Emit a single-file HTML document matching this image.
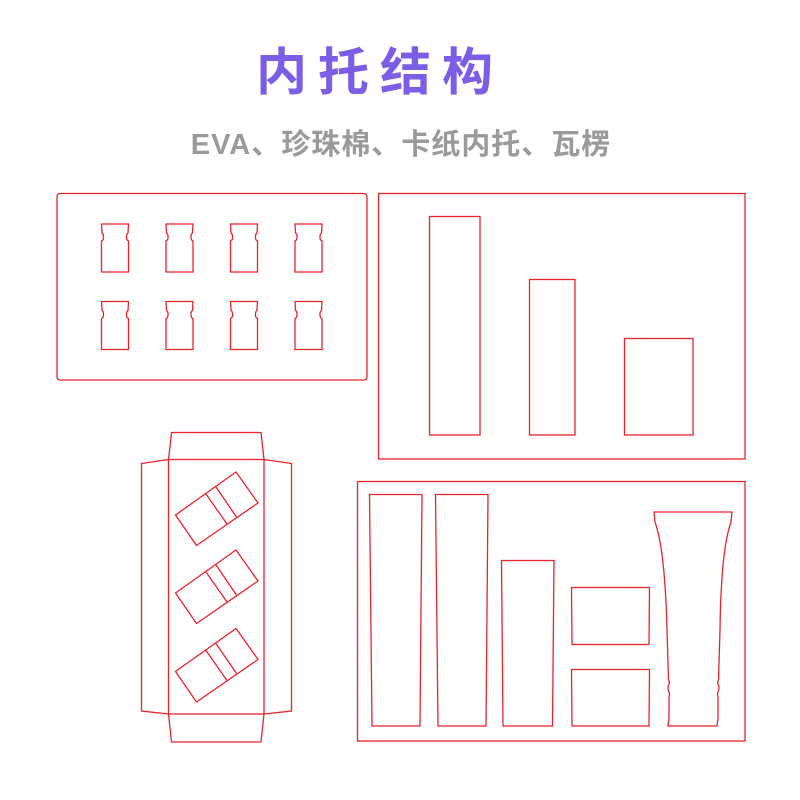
<!DOCTYPE html>
<html><head><meta charset="utf-8"><style>
html,body{margin:0;padding:0;background:#fff;width:800px;height:800px;overflow:hidden}
</style></head><body>
<svg width="800" height="800" viewBox="0 0 800 800" xmlns="http://www.w3.org/2000/svg">
<text x="380" y="90" text-anchor="middle" font-family="'Liberation Sans','Noto Sans CJK SC',sans-serif" font-weight="bold" font-size="51" fill="#7b5de6" letter-spacing="11">内托结构</text>
<text x="401" y="154" text-anchor="middle" font-family="'Liberation Sans','Noto Sans CJK SC',sans-serif" font-weight="bold" font-size="29" fill="#9a9a9a" letter-spacing="1">EVA、珍珠棉、卡纸内托、瓦楞</text>
<g fill="none" stroke="#e8232c" stroke-width="1.3">
<rect x="57" y="193.5" width="310" height="186.5" rx="3"/>
<defs>
<path id="b" d="M0,0 H27 L26.5,9 Q25,10 25,12 V14 Q25,16 27,17 V48 H0 V17 Q2,16 2,14 V12 Q2,10 0.5,9 Z"/>
</defs>
<use href="#b" x="101.5" y="224"/><use href="#b" x="166" y="224"/><use href="#b" x="230.5" y="224"/><use href="#b" x="295" y="224"/>
<use href="#b" x="101.5" y="301.5"/><use href="#b" x="166" y="301.5"/><use href="#b" x="230.5" y="301.5"/><use href="#b" x="295" y="301.5"/>
<rect x="378.5" y="193.5" width="366.5" height="265.5"/>
<rect x="429.5" y="216.5" width="50.5" height="218.5"/>
<rect x="529.5" y="279.5" width="45.5" height="155.5"/>
<rect x="624.5" y="338.5" width="68.5" height="96.5"/>
<rect x="357.5" y="481.5" width="387.5" height="259.5"/>
<path d="M369.5,494.5 H422 L420,726 H372 Z"/>
<path d="M435.5,494.5 H488 L486,726 H438 Z"/>
<path d="M501.5,560.5 H554 L552.5,726 H503 Z"/>
<path d="M571.5,587.5 H649.5 L649,644.5 H572 Z"/>
<path d="M571.5,669.5 H649.5 L649,726 H572 Z"/>
<path d="M654,512 H732 L731,522 Q721,550 720,630 L718.5,680 Q717,682 718,684 Q720,688 718,692 Q717,694 718,697 V718 L717,726 H668 L669,718 V697 Q670,694 669,692 Q667,688 669,684 Q670,682 668.5,680 L667,630 Q665,550 655,522 Z"/>
<rect x="168.5" y="459.5" width="95.5" height="254.5"/>
<path d="M168.5,459.5 L171.5,432.5 H261 L264,459.5"/>
<path d="M168.5,714 L171.5,742 H261 L264,714"/>
<path d="M168.5,459.5 L141.5,463.5 V711 L168.5,714"/>
<path d="M264,459.5 L291.5,463.5 V711 L264,714"/>
<g id="p">
<path d="M175.5,515 L236,472 L258,503 L196.5,545.5 Z"/>
<path d="M206,494 L227,524 M216,487 L236.5,517"/>
</g>
<use href="#p" y="78"/>
<use href="#p" y="156.5"/>
</g>
</svg>
</body></html>
